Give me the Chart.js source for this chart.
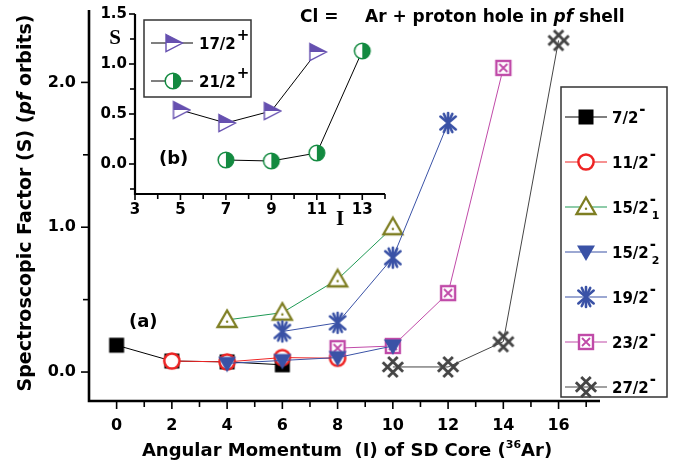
<!DOCTYPE html>
<html>
<head>
<meta charset="utf-8">
<script src="https://cdn.jsdelivr.net/npm/chart.js@4.4.1/dist/chart.umd.min.js"></script>
<style>
  html, body { margin: 0; padding: 0; background: #fff; }
  #wrap { position: relative; width: 685px; height: 464px; }
  #main, #inset { position: absolute; left: 0; top: 0; }
</style>
</head>
<body>
<div id="wrap">
  <canvas id="main" width="685" height="464"></canvas>
  <canvas id="inset" width="400" height="240"></canvas>
</div>
<script>
// panel (a): spectroscopic factor vs core angular momentum
const spin72x = [0, 2, 4, 6];
const spin72 = [0.185, 0.076, 0.07, 0.05];
const spin112x = [2, 4, 6, 8];
const spin112 = [0.076, 0.07, 0.10, 0.095];
const spin152ax = [4, 6, 8, 10];
const spin152a = [0.36, 0.41, 0.64, 1.0];
const spin152bx = [4, 6, 8, 10];
const spin152b = [0.06, 0.08, 0.10, 0.18];
const spin192x = [6, 8, 10, 12];
const spin192 = [0.28, 0.34, 0.79, 1.72];
const spin232x = [8, 10, 12, 14];
const spin232 = [0.165, 0.18, 0.545, 2.10];
const spin272x = [10, 12, 14, 16];
const spin272 = [0.035, 0.035, 0.21, 2.29];

const levelNames = ['7/2', '11/2', '15/2', '15/2', '19/2', '23/2', '27/2'];
const levelSubs = ['', '', '1', '2', '', '', ''];

// panel (b): positive parity states
const insetI172 = [5, 7, 9, 11];
const insetS172 = [0.54, 0.41, 0.53, 1.12];
const insetI212 = [7, 9, 11, 13];
const insetS212 = [0.04, 0.03, 0.11, 1.13];
const insetNames = ['17/2', '21/2'];

const xTicksMain = [0, 2, 4, 6, 8, 10, 12, 14, 16];
const yTicksMain = [0, 1, 2];
const xTicksInset = [3, 5, 7, 9, 11, 13];
const yTicksInset = [0, 0.5, 1, 1.5];

const SANS = '"DejaVu Sans", Verdana, sans-serif';
const SERIF = '"Liberation Serif", "Times New Roman", serif';
const bold = (sz) => 'bold ' + sz + 'px ' + SANS;
const boldIt = (sz) => 'italic bold ' + sz + 'px ' + SANS;

const pts = (xs, ys) => xs.map((x, i) => ({ x: x, y: ys[i] }));

function marker(size, draw) {
  const c = document.createElement('canvas');
  c.width = size; c.height = size;
  const g = c.getContext('2d');
  g.translate(size / 2, size / 2);
  draw(g);
  return c;
}

const mkSquare = marker(18, g => { g.fillStyle = '#000'; g.fillRect(-7.5, -7.5, 15, 15); });
const mkCircle = marker(22, g => {
  g.beginPath(); g.arc(0, 0, 7.6, 0, Math.PI * 2);
  g.fillStyle = '#fff'; g.fill();
  g.lineWidth = 2.5; g.strokeStyle = '#ee2424'; g.stroke();
});
const mkTriUp = marker(24, g => {
  g.beginPath(); g.moveTo(0, -9.5); g.lineTo(9.5, 7); g.lineTo(-9.5, 7); g.closePath();
  g.fillStyle = '#fff'; g.fill();
  g.lineWidth = 2.3; g.strokeStyle = '#7e7e22'; g.stroke();
  g.beginPath(); g.arc(0, 1.8, 1.2, 0, Math.PI * 2); g.fillStyle = '#7e7e22'; g.fill();
});
const mkTriDown = marker(22, g => {
  g.beginPath(); g.moveTo(-9, -6.5); g.lineTo(9, -6.5); g.lineTo(0, 9); g.closePath();
  g.fillStyle = '#3a52a6'; g.fill();
});
const mkStar = marker(26, g => {
  g.strokeStyle = '#3a52a6'; g.lineWidth = 2.6; g.lineCap = 'round';
  [90, 40, 140, 65, 115].forEach(a => {
    const r = a * Math.PI / 180, dx = Math.cos(r) * 10, dy = Math.sin(r) * 10;
    g.beginPath(); g.moveTo(-dx, -dy); g.lineTo(dx, dy); g.stroke();
  });
});
const mkBoxX = marker(20, g => {
  g.fillStyle = '#fff'; g.fillRect(-7, -7, 14, 14);
  g.lineWidth = 2.4; g.strokeStyle = '#c04aa8'; g.strokeRect(-7, -7, 14, 14);
  g.lineWidth = 1.8;
  g.beginPath(); g.moveTo(-4, -4); g.lineTo(4, 4); g.moveTo(4, -4); g.lineTo(-4, 4); g.stroke();
});
const mkHash = marker(28, g => {
  g.strokeStyle = '#454545'; g.lineWidth = 2.8;
  const k = Math.SQRT1_2;
  [1, -1].forEach(s => {
    const ux = k, uy = s * k, nx = -s * k, ny = k;
    [-3.8, 3.8].forEach(o => {
      g.beginPath();
      g.moveTo(-10.5 * ux + o * nx, -10.5 * uy + o * ny);
      g.lineTo(10.5 * ux + o * nx, 10.5 * uy + o * ny);
      g.stroke();
    });
  });
});
const mkTriRight = marker(22, g => {
  const path = () => { g.beginPath(); g.moveTo(-7, -8.5); g.lineTo(9.5, 0); g.lineTo(-7, 8.5); g.closePath(); };
  path(); g.fillStyle = '#fff'; g.fill();
  g.save(); g.beginPath(); g.rect(-11, -11, 22, 11); g.clip();
  path(); g.fillStyle = '#6650b0'; g.fill(); g.restore();
  path(); g.lineWidth = 1.4; g.strokeStyle = '#6650b0'; g.stroke();
});
const mkHalfCircle = marker(20, g => {
  g.beginPath(); g.arc(0, 0, 7.8, 0, Math.PI * 2); g.fillStyle = '#fff'; g.fill();
  g.beginPath(); g.arc(0, 0, 7.8, -Math.PI / 2, Math.PI / 2); g.closePath();
  g.fillStyle = '#138a40'; g.fill();
  g.beginPath(); g.arc(0, 0, 7.8, 0, Math.PI * 2);
  g.lineWidth = 1.5; g.strokeStyle = '#138a40'; g.stroke();
});

function drawParts(ctx, parts, x, y, align) {
  let w = 0;
  parts.forEach(p => { ctx.font = p.font; w += ctx.measureText(p.t).width; });
  let cx = align === 'center' ? x - w / 2 : x;
  ctx.textAlign = 'left';
  ctx.textBaseline = 'alphabetic';
  ctx.fillStyle = '#000';
  parts.forEach(p => {
    ctx.font = p.font;
    ctx.fillText(p.t, cx, y + (p.dy || 0));
    cx += ctx.measureText(p.t).width;
  });
}

function levelLabel(ctx, name, sup, sub, x, y, sz) {
  ctx.font = bold(sz);
  const w = ctx.measureText(name).width;
  drawParts(ctx, [{ t: name, font: bold(sz) }], x, y, 'left');
  drawParts(ctx, [{ t: sup, font: bold(sz) }], x + w + 1, y - 9, 'left');
  if (sub) drawParts(ctx, [{ t: sub, font: bold(11) }], x + w + 3, y + 6, 'left');
}

function drawTicks(ctx, scale, horizontal, edge, majorLen, minorLen, labeled) {
  ctx.strokeStyle = '#000';
  ctx.lineWidth = 1.6;
  scale.ticks.forEach(t => {
    const p = scale.getPixelForValue(t.value);
    const len = labeled.includes(t.value) ? majorLen : minorLen;
    ctx.beginPath();
    if (horizontal) { ctx.moveTo(p, edge); ctx.lineTo(p, edge + len); }
    else { ctx.moveTo(edge, p); ctx.lineTo(edge - len, p); }
    ctx.stroke();
  });
}

function drawAxes(ctx, a, w) {
  ctx.strokeStyle = '#000';
  ctx.lineWidth = w;
  ctx.beginPath();
  ctx.moveTo(a.left, a.top);
  ctx.lineTo(a.left, a.bottom);
  ctx.lineTo(a.right, a.bottom);
  ctx.stroke();
}

const mainDecor = {
  id: 'mainDecor',
  afterDraw(chart) {
    const { ctx, chartArea: a, scales } = chart;
    ctx.save();
    drawAxes(ctx, a, 2.6);
    drawTicks(ctx, scales.x, true, a.bottom, 8, 6, xTicksMain);
    drawTicks(ctx, scales.y, false, a.left, 8, 6, yTicksMain);

    // axis titles
    ctx.save();
    ctx.translate(31, 203);
    ctx.rotate(-Math.PI / 2);
    drawParts(ctx, [
      { t: 'Spectroscopic Factor (S) (', font: bold(19) },
      { t: 'pf', font: boldIt(19) },
      { t: ' orbits)', font: bold(19) }
    ], 0, 0, 'center');
    ctx.restore();
    drawParts(ctx, [
      { t: 'Angular Momentum  (I) of SD Core (', font: bold(18) },
      { t: '36', font: bold(11), dy: -8 },
      { t: 'Ar)', font: bold(18) }
    ], 347, 456, 'center');

    // annotations
    drawParts(ctx, [{ t: 'Cl =', font: bold(17) }], 300, 22, 'left');
    drawParts(ctx, [
      { t: 'Ar + proton hole in ', font: bold(17) },
      { t: 'pf', font: boldIt(17) },
      { t: ' shell', font: bold(17) }
    ], 365, 22, 'left');
    drawParts(ctx, [{ t: '(a)', font: bold(18) }], 129, 327, 'left');

    // legend
    ctx.lineWidth = 1.5;
    ctx.strokeStyle = '#333';
    ctx.strokeRect(561, 87, 106, 310);
    chart.data.datasets.forEach((ds, i) => {
      const y = 117 + i * 45;
      ctx.strokeStyle = ds.borderColor;
      ctx.lineWidth = 1.2;
      ctx.beginPath(); ctx.moveTo(565, y); ctx.lineTo(607, y); ctx.stroke();
      const m = ds.pointStyle;
      ctx.drawImage(m, 586 - m.width / 2, y - m.height / 2);
      levelLabel(ctx, levelNames[i], '-', levelSubs[i], 612, y + 6, 15);
    });
    ctx.restore();
  }
};

const insetDecor = {
  id: 'insetDecor',
  afterDraw(chart) {
    const { ctx, chartArea: a, scales } = chart;
    ctx.save();
    drawAxes(ctx, a, 2.2);
    drawTicks(ctx, scales.x, true, a.bottom, 6, 5, xTicksInset);
    drawTicks(ctx, scales.y, false, a.left, 6, 5, yTicksInset);
    ctx.fillStyle = '#000';
    ctx.font = 'bold 21px ' + SERIF;
    ctx.textAlign = 'center'; ctx.textBaseline = 'alphabetic';
    ctx.fillText('S', 115, 44);
    ctx.fillText('I', 340, 225);
    drawParts(ctx, [{ t: '(b)', font: bold(18) }], 159, 164, 'left');

    ctx.lineWidth = 1.5;
    ctx.strokeStyle = '#333';
    ctx.strokeRect(144, 20, 107, 77);
    chart.data.datasets.forEach((ds, i) => {
      const y = 43 + i * 38;
      ctx.strokeStyle = '#000';
      ctx.lineWidth = 1;
      ctx.beginPath(); ctx.moveTo(151, y); ctx.lineTo(193, y); ctx.stroke();
      const m = ds.pointStyle;
      ctx.drawImage(m, 173 - m.width / 2, y - m.height / 2);
      levelLabel(ctx, insetNames[i], '+', '', 199, y + 6, 15);
    });
    ctx.restore();
  }
};

const common = { showLine: true, borderWidth: 1, pointRadius: 8, clip: false };

new Chart(document.getElementById('main'), {
  type: 'scatter',
  data: {
    datasets: [
      { ...common, label: '7/2-', data: pts(spin72x, spin72), borderColor: '#000000', pointStyle: mkSquare, order: 6 },
      { ...common, label: '11/2-', data: pts(spin112x, spin112), borderColor: '#ee2424', pointStyle: mkCircle, order: 5 },
      { ...common, label: '15/2-1', data: pts(spin152ax, spin152a), borderColor: '#1f9a55', pointStyle: mkTriUp, order: 4 },
      { ...common, label: '15/2-2', data: pts(spin152bx, spin152b), borderColor: '#3a52a6', pointStyle: mkTriDown, order: 2 },
      { ...common, label: '19/2-', data: pts(spin192x, spin192), borderColor: '#3a52a6', pointStyle: mkStar, order: 1 },
      { ...common, label: '23/2-', data: pts(spin232x, spin232), borderColor: '#c04aa8', pointStyle: mkBoxX, order: 3 },
      { ...common, label: '27/2-', data: pts(spin272x, spin272), borderColor: '#454545', pointStyle: mkHash, order: 0 }
    ]
  },
  options: {
    responsive: false,
    animation: false,
    events: [],
    layout: { padding: { left: 0, right: 85, top: 10, bottom: 0 } },
    plugins: { legend: { display: false }, tooltip: { enabled: false } },
    scales: {
      x: {
        type: 'linear', min: -1, max: 17.5,
        afterBuildTicks: s => { s.ticks = []; for (let v = 0; v <= 17; v++) s.ticks.push({ value: v }); },
        afterFit: s => { s.height = 63; s.paddingLeft = 0; s.paddingRight = 0; },
        grid: { display: false, drawTicks: false },
        border: { display: false },
        ticks: {
          autoSkip: false, maxRotation: 0, padding: 15, color: '#000',
          font: { family: SANS, size: 16, weight: 'bold' },
          callback: v => xTicksMain.includes(v) ? String(v) : ''
        }
      },
      y: {
        type: 'linear', min: -0.2, max: 2.5,
        afterBuildTicks: s => { s.ticks = [0, 0.5, 1, 1.5, 2].map(v => ({ value: v })); },
        afterFit: s => { s.width = 89; s.paddingTop = 0; s.paddingBottom = 0; },
        grid: { display: false, drawTicks: false },
        border: { display: false },
        ticks: {
          autoSkip: false, padding: 13, color: '#000',
          font: { family: SANS, size: 16, weight: 'bold' },
          callback: v => yTicksMain.includes(v) ? v.toFixed(1) : ''
        }
      }
    }
  },
  plugins: [mainDecor]
});

new Chart(document.getElementById('inset'), {
  type: 'scatter',
  data: {
    datasets: [
      { ...common, label: '17/2+', data: pts(insetI172, insetS172), borderColor: '#000000', pointStyle: mkTriRight },
      { ...common, label: '21/2+', data: pts(insetI212, insetS212), borderColor: '#000000', pointStyle: mkHalfCircle }
    ]
  },
  options: {
    responsive: false,
    animation: false,
    events: [],
    layout: { padding: { left: 0, right: 15, top: 14, bottom: 0 } },
    plugins: { legend: { display: false }, tooltip: { enabled: false } },
    scales: {
      x: {
        type: 'linear', min: 3, max: 14,
        afterBuildTicks: s => { s.ticks = []; for (let v = 3; v <= 14; v++) s.ticks.push({ value: v }); },
        afterFit: s => { s.height = 46; s.paddingLeft = 0; s.paddingRight = 0; },
        grid: { display: false, drawTicks: false },
        border: { display: false },
        ticks: {
          autoSkip: false, maxRotation: 0, padding: 7, color: '#000',
          font: { family: SANS, size: 15, weight: 'bold' },
          callback: v => xTicksInset.includes(v) ? String(v) : ''
        }
      },
      y: {
        type: 'linear', min: -0.3, max: 1.5,
        afterBuildTicks: s => { s.ticks = [-0.25, 0, 0.25, 0.5, 0.75, 1, 1.25, 1.5].map(v => ({ value: v })); },
        afterFit: s => { s.width = 135; s.paddingTop = 0; s.paddingBottom = 0; },
        grid: { display: false, drawTicks: false },
        border: { display: false },
        ticks: {
          autoSkip: false, padding: 8, color: '#000',
          font: { family: SANS, size: 15, weight: 'bold' },
          callback: v => yTicksInset.includes(v) ? v.toFixed(1) : ''
        }
      }
    }
  },
  plugins: [insetDecor]
});
</script>
</body>
</html>
